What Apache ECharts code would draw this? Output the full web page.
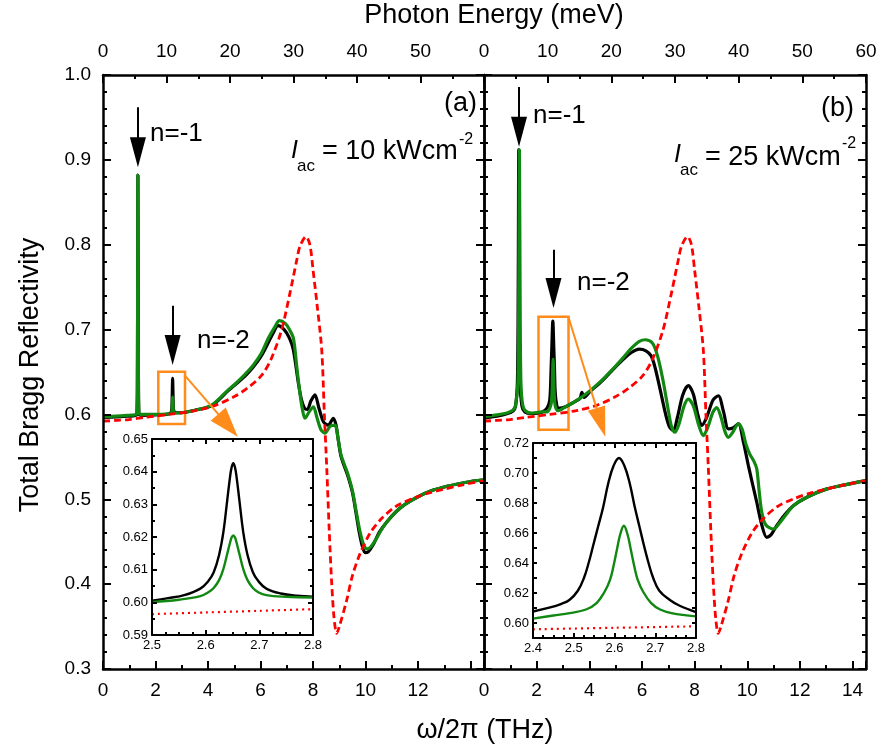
<!DOCTYPE html>
<html><head><meta charset="utf-8">
<script src="https://cdn.jsdelivr.net/npm/echarts@6/dist/echarts.min.js"></script>
<style>html,body{margin:0;padding:0;background:#fff}#c{width:882px;height:749px}</style>
</head><body><div id="c"></div>
<script>
// ---------- data (THz, reflectivity) ----------
const aBlack = [[0,0.5965],[0.5,0.597],[1.0,0.598],[1.2,0.5985],[1.29,0.6],[1.31,0.64],[1.33,0.882],[1.35,0.64],[1.37,0.6],[1.5,0.599],[2.0,0.5995],[2.55,0.6012],[2.62,0.6065],[2.635,0.6222],[2.6515,0.6426],[2.668,0.6222],[2.683,0.6065],[2.75,0.602],[3.0,0.602],[3.5,0.605],[4.14,0.6105],[4.77,0.628],[5.4,0.645],[5.7,0.655],[6.03,0.669],[6.3,0.685],[6.5,0.697],[6.66,0.7046],[6.9,0.70],[7.1,0.69],[7.25,0.676],[7.44,0.637],[7.56,0.617],[7.68,0.607],[7.78,0.606],[7.92,0.616],[8.07,0.623],[8.22,0.608],[8.4,0.591],[8.58,0.5875],[8.77,0.5955],[8.87,0.588],[8.96,0.57],[9.06,0.551],[9.19,0.539],[9.32,0.528],[9.5,0.508],[9.63,0.485],[9.76,0.461],[9.89,0.443],[9.99,0.437],[10.1,0.438],[10.3,0.447],[10.52,0.461],[10.8,0.473],[11.15,0.485],[11.5,0.494],[12.0,0.503],[12.5,0.51],[13.0,0.5145],[13.5,0.518],[14.0,0.521],[14.51,0.523]];
const aGreen = [[0,0.5975],[0.5,0.598],[1.0,0.599],[1.2,0.5995],[1.29,0.601],[1.31,0.64],[1.33,0.882],[1.35,0.64],[1.37,0.601],[1.5,0.6],[2.0,0.6],[2.55,0.6008],[2.62,0.6035],[2.639,0.614],[2.6515,0.6205],[2.664,0.614],[2.683,0.6035],[2.75,0.6017],[3.0,0.602],[3.5,0.605],[4.14,0.611],[4.77,0.629],[5.0,0.635],[5.4,0.647],[5.7,0.657],[6.03,0.672],[6.3,0.69],[6.54,0.703],[6.72,0.7105],[6.95,0.707],[7.1,0.70],[7.25,0.69],[7.38,0.656],[7.5,0.625],[7.6,0.605],[7.69,0.5955],[7.85,0.603],[8.01,0.609],[8.15,0.596],[8.3,0.582],[8.45,0.578],[8.65,0.586],[8.83,0.5875],[8.95,0.572],[9.06,0.553],[9.19,0.541],[9.32,0.53],[9.5,0.51],[9.63,0.488],[9.78,0.463],[9.92,0.447],[10.07,0.4415],[10.2,0.444],[10.4,0.453],[10.6,0.464],[10.8,0.473],[11.15,0.485],[11.5,0.494],[12.0,0.503],[12.5,0.51],[13.0,0.5145],[13.5,0.518],[14.0,0.521],[14.51,0.523]];
const refRed = [[0,0.592],[0.5,0.593],[1.0,0.594],[1.6,0.5966],[2.5,0.6],[3.5,0.6044],[4.3,0.611],[5.0,0.621],[5.5,0.631],[6.03,0.6456],[6.4,0.665],[6.8,0.6995],[7.12,0.743],[7.38,0.782],[7.5,0.798],[7.73,0.8095],[7.88,0.80],[8.0,0.77],[8.15,0.73],[8.33,0.676],[8.43,0.60],[8.52,0.538],[8.62,0.46],[8.71,0.401],[8.8,0.36],[8.9,0.342],[9.02,0.352],[9.28,0.381],[9.5,0.41],[9.79,0.436],[10.17,0.46],[10.6,0.477],[11.15,0.4915],[11.8,0.501],[12.42,0.5075],[13.0,0.512],[13.7,0.517],[14.51,0.522]];
const bBlack = [[0,0.596],[0.5,0.598],[0.9,0.601],[1.1,0.604],[1.2,0.61],[1.27,0.64],[1.3,0.75],[1.32,0.912],[1.34,0.75],[1.37,0.64],[1.44,0.61],[1.55,0.603],[1.8,0.601],[2.2,0.6025],[2.4,0.6077],[2.49,0.6155],[2.523,0.629],[2.548,0.653],[2.572,0.675],[2.615,0.710],[2.655,0.675],[2.678,0.653],[2.70,0.629],[2.74,0.6155],[2.82,0.6073],[3.1,0.609],[3.5,0.616],[3.65,0.619],[3.72,0.626],[3.8,0.62],[4.03,0.627],[4.4,0.637],[4.66,0.645],[5.0,0.656],[5.29,0.665],[5.6,0.673],[5.9,0.677],[6.15,0.675],[6.35,0.669],[6.5,0.655],[6.7,0.628],[6.9,0.600],[7.05,0.585],[7.19,0.581],[7.35,0.597],[7.55,0.623],[7.76,0.634],[7.95,0.624],[8.12,0.6],[8.27,0.587],[8.45,0.596],[8.7,0.617],[8.9,0.622],[9.1,0.603],[9.28,0.583],[9.45,0.584],[9.66,0.589],[9.85,0.568],[10.04,0.54],[10.2,0.518],[10.36,0.4965],[10.55,0.47],[10.74,0.4552],[10.9,0.458],[11.1,0.468],[11.4,0.481],[11.75,0.4925],[12.3,0.503],[13.0,0.512],[13.7,0.517],[14.51,0.522]];
const bGreen = [[0,0.5975],[0.5,0.5995],[0.9,0.602],[1.1,0.605],[1.2,0.611],[1.29,0.64],[1.32,0.75],[1.345,0.912],[1.37,0.75],[1.4,0.64],[1.47,0.611],[1.58,0.604],[1.8,0.6015],[2.2,0.603],[2.4,0.603],[2.49,0.6066],[2.556,0.6133],[2.589,0.6288],[2.605,0.6487],[2.625,0.6648],[2.645,0.6487],[2.66,0.6288],[2.69,0.6133],[2.74,0.6066],[2.82,0.6044],[3.1,0.609],[3.5,0.616],[4.03,0.628],[4.4,0.638],[4.66,0.646],[5.0,0.657],[5.29,0.667],[5.6,0.678],[5.9,0.686],[6.13,0.688],[6.4,0.684],[6.6,0.668],[6.8,0.64],[7.0,0.605],[7.12,0.586],[7.25,0.579],[7.4,0.588],[7.6,0.61],[7.76,0.618],[7.95,0.61],[8.15,0.588],[8.33,0.575],[8.5,0.585],[8.7,0.603],[8.84,0.608],[9.0,0.597],[9.15,0.58],[9.28,0.573],[9.45,0.579],[9.66,0.589],[9.8,0.583],[9.95,0.565],[10.1,0.553],[10.25,0.545],[10.36,0.536],[10.45,0.51],[10.55,0.485],[10.7,0.47],[10.99,0.465],[11.2,0.471],[11.5,0.483],[11.75,0.4925],[12.3,0.503],[13.0,0.512],[13.7,0.517],[14.51,0.522]];
const insetABlack = [[2.5,0.6005],[2.53,0.6013],[2.56,0.6022],[2.59,0.6042],[2.605,0.6065],[2.615,0.6092],[2.625,0.6145],[2.633,0.6215],[2.64,0.631],[2.6455,0.6385],[2.6485,0.6414],[2.6515,0.6426],[2.6545,0.6414],[2.6575,0.6385],[2.663,0.631],[2.67,0.6215],[2.678,0.6145],[2.688,0.6092],[2.698,0.6065],[2.713,0.6042],[2.74,0.6027],[2.77,0.602],[2.8,0.6017]];
const insetAGreen = [[2.5,0.6001],[2.55,0.6008],[2.59,0.6019],[2.605,0.6031],[2.615,0.6044],[2.625,0.6068],[2.633,0.6102],[2.64,0.6147],[2.6455,0.6183],[2.6485,0.6199],[2.6515,0.6205],[2.6545,0.6199],[2.6575,0.6183],[2.663,0.6147],[2.67,0.6102],[2.678,0.6068],[2.688,0.6044],[2.698,0.6031],[2.713,0.6022],[2.75,0.6017],[2.8,0.6015]];
const insetARed = [[2.5,0.5964],[2.6,0.5969],[2.7,0.5974],[2.8,0.5979]];
const insetBBlack = [[2.4,0.6077],[2.44,0.6102],[2.47,0.6128],[2.49,0.6155],[2.51,0.6215],[2.525,0.630],[2.537,0.6405],[2.548,0.652],[2.56,0.6645],[2.572,0.677],[2.585,0.6935],[2.598,0.705],[2.611,0.710],[2.624,0.705],[2.637,0.6935],[2.65,0.677],[2.661,0.6645],[2.672,0.652],[2.683,0.6405],[2.695,0.630],[2.71,0.6215],[2.735,0.6155],[2.76,0.6115],[2.8,0.6073]];
const insetBGreen = [[2.4,0.6029],[2.45,0.605],[2.49,0.6066],[2.53,0.609],[2.556,0.6133],[2.575,0.6205],[2.589,0.6288],[2.598,0.6385],[2.606,0.649],[2.614,0.659],[2.623,0.6648],[2.632,0.659],[2.64,0.649],[2.648,0.6385],[2.657,0.6288],[2.671,0.6205],[2.69,0.6133],[2.712,0.609],[2.74,0.6066],[2.8,0.6044]];
const insetBRed = [[2.4,0.5958],[2.6,0.5968],[2.8,0.5978]];

// ---------- styling ----------
const FONT = '"Liberation Sans", Arial, Helvetica, sans-serif';
const GREEN = '#118811', RED = '#ff0000', ORANGE = '#ff8c1a';
const THZ_MAX = 14.51;

function axis(o) {
  const lw = o.lw || 2.5;
  return {
    type: 'value', gridIndex: o.grid, position: o.pos, min: o.min, max: o.max, interval: o.interval,
    axisLine: {show: true, onZero: false, lineStyle: {color: '#000', width: lw}},
    axisTick: {show: true, inside: true, length: o.tick || 8, lineStyle: {color: '#000', width: 2}},
    minorTick: {show: !!o.minor, splitNumber: o.minor || 2, length: o.minorLen || 4, lineStyle: {color: '#000', width: 2}},
    axisLabel: {show: !!o.label, color: '#000', fontFamily: FONT, fontSize: o.fs || 19, margin: o.margin || 10,
                formatter: o.fmt, showMinLabel: true, showMaxLabel: true},
    splitLine: {show: false}, minorSplitLine: {show: false}
  };
}
const isInt = v => Math.abs(v - Math.round(v)) < 1e-6;
const fmtTHzA = v => (isInt(v) && Math.round(v) !== 14) ? String(Math.round(v)) : '';
const fmtTHzB = v => isInt(v) ? String(Math.round(v)) : '';
const fmtMeVA = v => (isInt(v) && Math.round(v) !== 60) ? String(Math.round(v)) : '';
const fmtMeVB = v => isInt(v) ? String(Math.round(v)) : '';

const xAxis = [
  axis({grid:0,pos:'bottom',min:0,max:THZ_MAX,interval:2,minor:2,label:true,fmt:fmtTHzA,margin:12}),
  axis({grid:0,pos:'top',min:0,max:60,interval:10,minor:2,label:true,fmt:fmtMeVA,margin:14}),
  axis({grid:1,pos:'bottom',min:0,max:THZ_MAX,interval:2,minor:2,label:true,fmt:fmtTHzB,margin:12}),
  axis({grid:1,pos:'top',min:0,max:60,interval:10,minor:2,label:true,fmt:fmtMeVB,margin:14}),
  axis({grid:2,pos:'bottom',min:2.5,max:2.8,interval:0.1,minor:4,label:true,fs:13,margin:4,tick:5,minorLen:3,lw:2,fmt:v=>v.toFixed(1)}),
  axis({grid:2,pos:'top',min:2.5,max:2.8,interval:0.1,minor:4,tick:5,minorLen:3,lw:2}),
  axis({grid:3,pos:'bottom',min:2.4,max:2.8,interval:0.1,minor:4,label:true,fs:13,margin:4,tick:5,minorLen:3,lw:2,fmt:v=>v.toFixed(1)}),
  axis({grid:3,pos:'top',min:2.4,max:2.8,interval:0.1,minor:4,tick:5,minorLen:3,lw:2})
];
const yAxis = [
  axis({grid:0,pos:'left',min:0.3,max:1.0,interval:0.1,minor:5,label:true,fmt:v=>v.toFixed(1),margin:12}),
  axis({grid:0,pos:'right',min:0.3,max:1.0,interval:0.1,minor:5}),
  axis({grid:1,pos:'left',min:0.3,max:1.0,interval:0.1,minor:5}),
  axis({grid:1,pos:'right',min:0.3,max:1.0,interval:0.1,minor:5}),
  axis({grid:2,pos:'left',min:0.59,max:0.65,interval:0.01,minor:2,label:true,fs:13,margin:4,tick:5,minorLen:3,lw:2,fmt:v=>v.toFixed(2)}),
  axis({grid:2,pos:'right',min:0.59,max:0.65,interval:0.01,minor:2,tick:5,minorLen:3,lw:2}),
  axis({grid:3,pos:'left',min:0.59,max:0.72,interval:0.01,label:true,fs:13,margin:4,tick:4,lw:2,
        fmt:v=>(Math.round(v*100)%2===0?v.toFixed(2):'')}),
  axis({grid:3,pos:'right',min:0.59,max:0.72,interval:0.01,tick:4,lw:2})
];

function line(data, xi, yi, color, width, type, z, smooth) {
  return {type:'line', data, xAxisIndex:xi, yAxisIndex:yi, symbol:'none', smooth: smooth === undefined ? 0.3 : smooth,
          lineStyle:{color, width, type}, z, silent:true, animation:false, clip:true};
}
function arrow(x1,y1,x2,y2,color,size){
  return [{coord:[x1,y1], symbol:'none', lineStyle:{color,width:2}, itemStyle:{color}},
          {coord:[x2,y2], symbol:'triangle', symbolSize:size, lineStyle:{color,width:2}, itemStyle:{color}}];
}

const sA = line(aBlack,0,0,'#000',3.2,'solid',2);
sA.markLine = {silent:true, animation:false, symbol:['none','triangle'], label:{show:false},
  lineStyle:{color:'#000', width:2, type:'solid'},
  data:[arrow(1.33,0.962,1.33,0.909,'#000',[16,30]), arrow(2.6515,0.728,2.6515,0.676,'#000',[16,30]),
        arrow(3.123,0.6457,4.76,0.587,ORANGE,[20,30])]};
sA.markArea = {silent:true, animation:false, itemStyle:{color:'rgba(0,0,0,0)', borderColor:ORANGE, borderWidth:2.5},
  data:[[{coord:[2.106,0.6504]},{coord:[3.123,0.5887]}]]};
const sB = line(bBlack,2,2,'#000',3.2,'solid',2);
sB.markLine = {silent:true, animation:false, symbol:['none','triangle'], label:{show:false},
  lineStyle:{color:'#000', width:2, type:'solid'},
  data:[arrow(1.33,0.986,1.33,0.933,'#000',[16,30]), arrow(2.64,0.794,2.64,0.743,'#000',[16,30]),
        arrow(3.21,0.7146,4.44,0.5906,ORANGE,[18,30])]};
sB.markArea = {silent:true, animation:false, itemStyle:{color:'rgba(0,0,0,0)', borderColor:ORANGE, borderWidth:2.5},
  data:[[{coord:[2.07,0.715]},{coord:[3.21,0.582]}]]};

const series = [
  sA, line(aGreen,0,0,GREEN,3.2,'solid',3), line(refRed,0,0,RED,2.8,[7,4],4),
  sB, line(bGreen,2,2,GREEN,3.2,'solid',3), line(refRed,2,2,RED,2.8,[7,4],4),
  line(insetABlack,4,4,'#000',2.4,'solid',12,0.4), line(insetAGreen,4,4,GREEN,2.4,'solid',13,0.4), line(insetARed,4,4,RED,2.2,[2,4],14),
  line(insetBBlack,6,6,'#000',2.4,'solid',12,0.4), line(insetBGreen,6,6,GREEN,2.4,'solid',13,0.4), line(insetBRed,6,6,RED,2.2,[2,4],14)
];

function txt(x,y,text,size,opt){
  opt = opt || {};
  return {type:'text', x, y, rotation: opt.rot || 0, z: 100, silent:true,
          style:{text, fontSize:size, fontFamily:FONT, fontStyle: opt.italic?'italic':'normal', fill:'#000',
                 align: opt.align || 'left', verticalAlign:'middle'}};
}
const graphic = [
  txt(494,16,'Photon Energy (meV)',27,{align:'center'}),
  txt(485,731,'ω/2π (THz)',27,{align:'center'}),
  txt(31,375,'Total Bragg Reflectivity',27,{align:'center',rot:Math.PI/2}),
  txt(477,104,'(a)',27,{align:'right'}),
  txt(854,109,'(b)',27,{align:'right'}),
  txt(150,134,'n=-1',26),
  txt(197,341,'n=-2',26),
  txt(533,116,'n=-1',26),
  txt(577,283,'n=-2',26),
  txt(291,151,'I',25,{italic:true}), txt(297,166,'ac',17), txt(322,152,'= 10 kWcm',27), txt(459,140,'-2',16),
  txt(674,155,'I',25,{italic:true}), txt(680,170,'ac',17), txt(705,158,'= 25 kWcm',27), txt(842,144,'-2',16)
];

const chart = echarts.init(document.getElementById('c'), null, {renderer:'canvas'});
chart.setOption({
  backgroundColor:'#fff', animation:false,
  grid:[
    {left:103, top:75, width:381, height:594},
    {left:484, top:75, width:382, height:594},
    {left:152, top:439, width:161, height:196, show:true, backgroundColor:'#fff', borderWidth:0, z:10},
    {left:533, top:443, width:163, height:195, show:true, backgroundColor:'#fff', borderWidth:0, z:10}
  ],
  xAxis: xAxis.map((a,i)=>Object.assign(a,{z: i>=4?15:5})),
  yAxis: yAxis.map((a,i)=>Object.assign(a,{z: i>=4?15:5})),
  series, graphic
});
</script></body></html>
